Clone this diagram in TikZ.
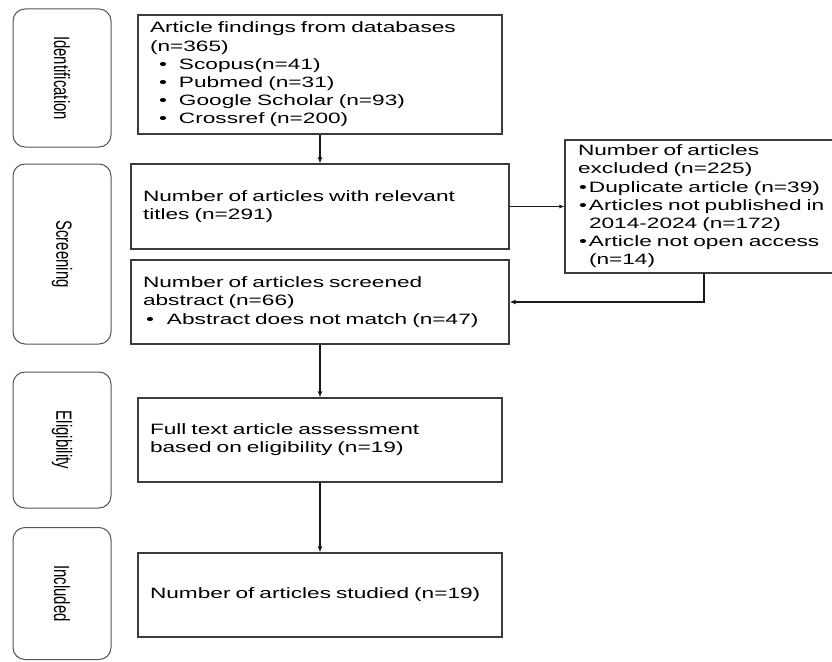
\documentclass[tikz,border=0pt]{standalone}
\usepackage{fontspec}
\setmainfont{Liberation Sans}[FakeStretch=1.51]
\newfontfamily\sidefont{Liberation Sans}[FakeStretch=0.68]
\usetikzlibrary{arrows.meta}
\definecolor{boxgray}{RGB}{60,60,60}
\definecolor{stagegray}{RGB}{85,85,85}
\newcommand{\bul}[2]{\hspace*{#1}\makebox[#2][l]{•}}
\tikzset{
  stage/.style={draw=stagegray, line width=1pt, rounded corners=12pt, rotate=-90, inner sep=0pt,
    minimum width=#1, minimum height=98pt, font=\sidefont\fontsize{22}{24}\selectfont},
  flowbox/.style 2 args={draw=boxgray, line width=1.1pt, align=left, inner xsep=12pt, inner ysep=0pt,
    text width=#1, minimum height=#2, font=\fontsize{15}{18.2}\selectfont},
  flowarrow/.style={draw=black!90, line width=1.8pt, -{Latex[length=6pt,width=5pt]}},
  thinarrow/.style={draw=black!90, line width=1pt, -{Latex[length=5pt,width=4pt]}}
}

\begin{document}
\begin{tikzpicture}[x=1pt, y=-1pt]
  \useasboundingbox (0,0) rectangle (832,661);

  % Stages
  \node[stage=138pt] (ident) at (62,78) {Identification};
  \node[stage=180pt] (screen) at (62,254) {Screening};
  \node[stage=136pt] (elig) at (62,440) {Eligibility};
  \node[stage=132pt] (incl) at (62,593.5) {Included};

  \node[flowbox={340pt}{119pt}] (find) at (320,74.5) {Article findings from databases\\(n=365)\\\bul{9pt}{20pt}Scopus(n=41)\\\bul{9pt}{20pt}Pubmed (n=31)\\\bul{9pt}{20pt}Google Scholar (n=93)\\\bul{9pt}{20pt}Crossref (n=200)};
  \node[flowbox={354pt}{85pt}] (titles) at (320,206.5) {Number of articles with relevant\\titles (n=291)};
  \node[flowbox={354pt}{84pt}] (abstr) at (320,302) {Number of articles screened\\abstract (n=66)\\\bul{3pt}{21pt}Abstract does not match (n=47)};
  \node[flowbox={340pt}{84pt}] (full) at (320,440) {Full text article assessment\\based on eligibility (n=19)};
  \node[flowbox={340pt}{84pt}] (studied) at (320,595) {Number of articles studied (n=19)};

  \node[flowbox={252pt}{133pt}, inner xsep=13pt] (excl) at (704,206.5) {Number of articles\\excluded (n=225)\\\bul{1pt}{10pt}Duplicate article (n=39)\\\bul{1pt}{10pt}Articles not published in\\\hspace*{11pt}2014-2024 (n=172)\\\bul{1pt}{10pt}Article not open access\\\hspace*{11pt}(n=14)};

  % Connectors
  \draw[flowarrow] (find) -- (titles);
  \draw[thinarrow] (titles) -- (excl);
  \draw[flowarrow] (excl.south) |- (abstr.east);
  \draw[flowarrow] (abstr) -- (full);
  \draw[flowarrow] (full) -- (studied);
\end{tikzpicture}
\end{document}
